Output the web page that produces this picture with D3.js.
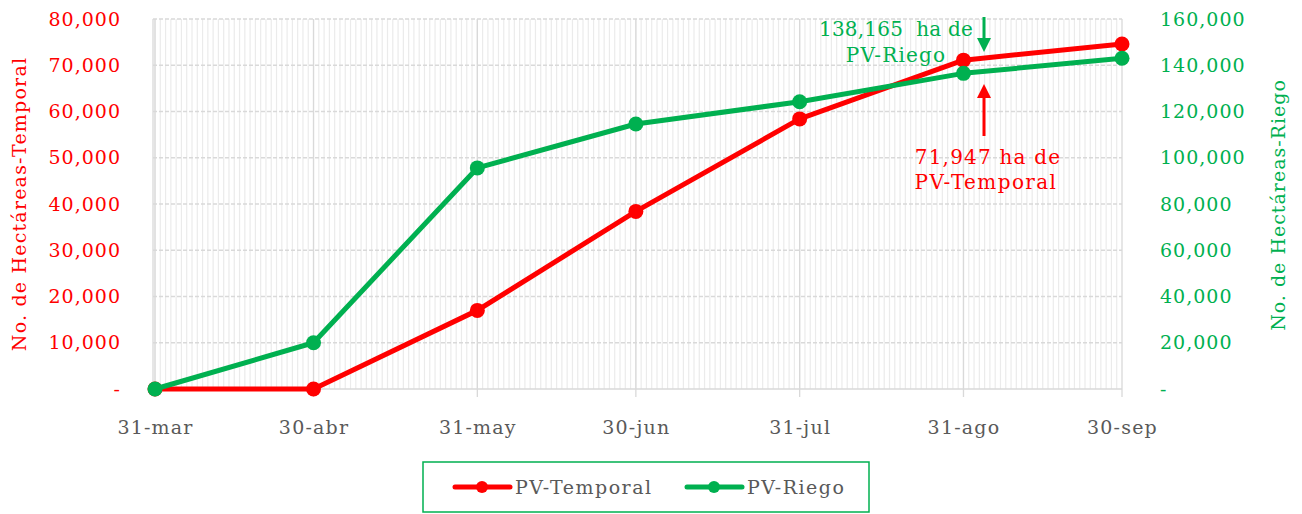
<!DOCTYPE html>
<html>
<head>
<meta charset="utf-8">
<script src="https://cdn.jsdelivr.net/npm/d3@7"></script>
<style>
  body { margin: 0; background: #fff; }
  svg { display: block; font-family: "DejaVu Serif", serif; }
  text { white-space: pre; }
</style>
</head>
<body>
<svg id="chart" width="1302" height="514"></svg>
<script>
// ------- data -------
var dates = ["2021-03-31", "2021-04-30", "2021-05-31", "2021-06-30", "2021-07-31", "2021-08-31", "2021-09-30"];
var temporal = [0, 0, 17000, 38400, 58400, 71100, 74600];
var riego = [0, 20000, 95600, 114600, 124200, 136500, 143000];
var leftTicks = [0, 10000, 20000, 30000, 40000, 50000, 60000, 70000, 80000];
var rightTicks = [0, 20000, 40000, 60000, 80000, 100000, 120000, 140000, 160000];
var mesNombres = ["ene", "feb", "mar", "abr", "may", "jun", "jul", "ago", "sep", "oct", "nov", "dic"];

var RED = "#ff0000", GREEN = "#00b050", GRAY = "#595959";

var parse = d3.timeParse("%Y-%m-%d");
var fechas = dates.map(parse);

var svg = d3.select("#chart");

var x = d3.scaleTime().domain([fechas[0], fechas[fechas.length - 1]]).range([155, 1122]);
var yL = d3.scaleLinear().domain([0, 80000]).range([389, 19]);
var yR = d3.scaleLinear().domain([0, 160000]).range([389, 19]);

var fmt = function (v) { return v === 0 ? "-" : d3.format(",")(v); };

// ------- grid -------
var grid = svg.append("g");
// daily minor lines
grid.selectAll("line.minor")
    .data(d3.timeDay.range(fechas[0], fechas[fechas.length - 1]))
    .enter().append("line")
    .attr("x1", function (d) { return x(d); })
    .attr("x2", function (d) { return x(d); })
    .attr("y1", yL(80000)).attr("y2", yL(0))
    .attr("stroke", "#ebebeb").attr("stroke-width", 1.2);

// horizontal dashed
grid.selectAll("line.h")
    .data(leftTicks.slice(1))
    .enter().append("line")
    .attr("x1", 153).attr("x2", 1122)
    .attr("y1", function (d) { return yL(d); })
    .attr("y2", function (d) { return yL(d); })
    .attr("stroke", "#d9d9d9").attr("stroke-width", 1.3)
    .attr("stroke-dasharray", "4,2");

// major month lines (with tick below)
grid.selectAll("line.major")
    .data(fechas)
    .enter().append("line")
    .attr("x1", function (d) { return x(d); })
    .attr("x2", function (d) { return x(d); })
    .attr("y1", yL(80000)).attr("y2", yL(0) + 8)
    .attr("stroke", "#d9d9d9").attr("stroke-width", 1.3);

// frame left + bottom
grid.append("line").attr("x1", 153).attr("x2", 153).attr("y1", yL(80000)).attr("y2", yL(0))
    .attr("stroke", "#d9d9d9").attr("stroke-width", 1.3);
grid.append("line").attr("x1", 153).attr("x2", 1122).attr("y1", yL(0)).attr("y2", yL(0))
    .attr("stroke", "#d9d9d9").attr("stroke-width", 1.3);

// ------- axes -------
var axL = svg.append("g").attr("transform", "translate(121,0)")
    .call(d3.axisLeft(yL).tickValues(leftTicks).tickFormat(fmt).tickSize(0).tickPadding(0));
axL.select(".domain").remove();
axL.selectAll("text").attr("fill", RED).style("font-size", "19px").style("font-family", "DejaVu Serif")
    .style("letter-spacing", "1px");

var axR = svg.append("g").attr("transform", "translate(1160,0)")
    .call(d3.axisRight(yR).tickValues(rightTicks).tickFormat(fmt).tickSize(0).tickPadding(0));
axR.select(".domain").remove();
axR.selectAll("text").attr("fill", GREEN).style("font-size", "19px").style("font-family", "DejaVu Serif")
    .style("letter-spacing", "1px");

var axX = svg.append("g").attr("transform", "translate(0,420)")
    .call(d3.axisBottom(x).tickValues(fechas).tickSize(0).tickPadding(0)
        .tickFormat(function (d) { return d.getDate() + "-" + mesNombres[d.getMonth()]; }));
axX.select(".domain").remove();
axX.selectAll("text").attr("fill", GRAY).style("font-size", "19px").style("font-family", "DejaVu Serif")
    .style("letter-spacing", "1.2px");

svg.append("text")
    .attr("transform", "translate(26,204) rotate(-90)")
    .attr("text-anchor", "middle")
    .attr("fill", RED).style("font-size", "19px").style("letter-spacing", "1.2px")
    .text("No. de Hectáreas-Temporal");

svg.append("text")
    .attr("transform", "translate(1285,205) rotate(-90)")
    .attr("text-anchor", "middle")
    .attr("fill", GREEN).style("font-size", "19px").style("letter-spacing", "1px")
    .text("No. de Hectáreas-Riego");

// ------- series -------
var series = [
    { name: "PV-Temporal", values: temporal, y: yL, color: RED },
    { name: "PV-Riego", values: riego, y: yR, color: GREEN }
];

series.forEach(function (s) {
    var line = d3.line()
        .x(function (d, i) { return x(fechas[i]); })
        .y(function (d) { return s.y(d); });
    svg.append("path")
        .datum(s.values)
        .attr("d", line)
        .attr("fill", "none")
        .attr("stroke", s.color)
        .attr("stroke-width", 5)
        .attr("stroke-linejoin", "round");
    svg.selectAll(null)
        .data(s.values)
        .enter().append("circle")
        .attr("cx", function (d, i) { return x(fechas[i]); })
        .attr("cy", function (d) { return s.y(d); })
        .attr("r", 7.5)
        .attr("fill", s.color);
});

// ------- annotations -------
function arrow(xp, y0, y1, color) {
    var dir = y1 > y0 ? 1 : -1;
    svg.append("line")
        .attr("x1", xp).attr("x2", xp).attr("y1", y0).attr("y2", y1 - dir * 12)
        .attr("stroke", color).attr("stroke-width", 3);
    svg.append("path")
        .attr("d", "M" + (xp - 7) + "," + (y1 - dir * 14) + "L" + (xp + 7) + "," + (y1 - dir * 14) + "L" + xp + "," + y1 + "Z")
        .attr("fill", color);
}
arrow(984, 17, 52, GREEN);
arrow(984, 136, 84, RED);

function nota(xc, yb, txt, color, sp) {
    svg.append("text").attr("x", xc).attr("y", yb).attr("text-anchor", "middle")
        .attr("fill", color).style("font-size", "20px").style("letter-spacing", sp + "px").text(txt);
}
nota(896, 36, "138,165  ha de", GREEN, 0.2);
nota(896, 62, "PV-Riego", GREEN, 1.2);
nota(988, 164, "71,947 ha de", RED, 1.2);
nota(986, 189, "PV-Temporal", RED, 1.4);

// ------- legend -------
var leg = svg.append("g");
leg.append("rect").attr("x", 423).attr("y", 462).attr("width", 446).attr("height", 50)
    .attr("fill", "#fff").attr("stroke", GREEN).attr("stroke-width", 1.5);
var legX = [455, 687];
series.forEach(function (s, i) {
    var g = leg.append("g").attr("transform", "translate(" + legX[i] + ",487)");
    g.append("line").attr("x1", 0).attr("x2", 55).attr("stroke", s.color)
        .attr("stroke-width", 5).attr("stroke-linecap", "round");
    g.append("circle").attr("cx", 27).attr("r", 6).attr("fill", s.color);
    g.append("text").attr("x", 60).attr("dy", "0.35em").attr("fill", GRAY)
        .style("font-size", "19px").style("letter-spacing", "1.5px").text(s.name);
});
</script>
</body>
</html>
